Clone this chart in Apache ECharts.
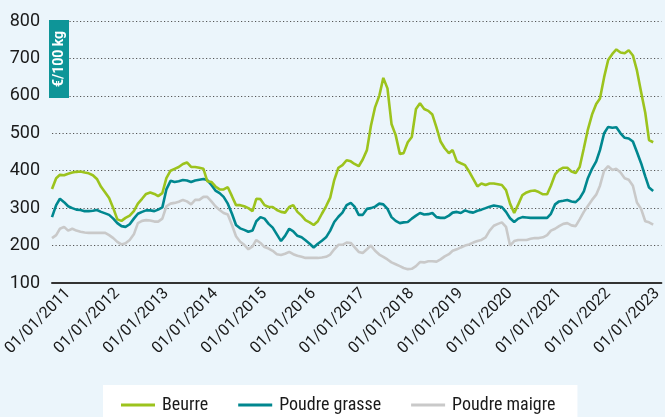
<!DOCTYPE html>
<html>
<head>
<meta charset="utf-8">
<script src="https://cdn.jsdelivr.net/npm/echarts@6/dist/echarts.min.js"></script>
<style>
html,body{margin:0;padding:0;background:#ebf5fb;}
#c{width:665px;height:417px;}
</style>
</head>
<body>
<div id="c"></div>
<script>
// Monthly observations (1st of month), from Jan 2011 to Apr 2023
var startYear = 2011, startMonth = 1, monthCount = 148;

var beurre = [351,380,389,388,392,395,397,398,395,393,388,378,357,342,327,300,270,266,274,280,292,312,325,338,342,338,332,340,380,400,405,410,418,422,410,410,408,405,372,370,358,350,350,356,332,308,308,305,300,292,325,324,308,303,303,295,290,288,303,308,290,280,268,262,255,265,285,305,328,375,408,415,428,425,418,412,430,455,520,570,600,648,620,525,495,445,447,476,490,565,580,565,560,550,515,478,460,447,455,425,420,415,398,378,358,366,362,366,366,364,362,348,312,287,310,335,342,346,347,343,337,337,360,390,402,408,408,398,394,410,460,510,550,578,593,650,696,712,724,716,714,722,708,668,610,555,482,476];

var poudreGrasse = [276,308,325,316,305,300,296,295,292,292,293,295,290,286,282,272,260,252,250,257,272,285,290,294,294,292,296,302,350,373,370,372,375,374,370,374,376,378,375,362,347,340,330,312,285,255,246,242,237,240,265,276,272,258,248,230,212,226,245,238,226,222,214,205,195,205,213,222,240,263,277,288,308,314,304,282,282,298,300,304,312,310,298,276,266,260,262,263,272,280,287,283,284,287,276,274,274,280,288,290,287,294,290,288,293,296,300,304,307,305,303,290,273,263,272,276,275,274,274,274,274,274,285,310,318,320,322,318,316,326,345,380,405,425,455,500,517,515,516,500,488,486,478,450,420,385,355,346];

var poudreMaigre = [220,228,245,250,240,245,240,237,235,234,234,234,234,234,228,220,210,203,206,215,230,260,266,268,267,264,264,272,305,312,314,317,322,318,310,322,322,330,330,318,305,295,287,283,255,225,210,202,190,198,215,207,196,192,186,177,175,178,183,177,173,170,167,167,167,167,168,170,176,190,202,202,208,207,196,183,180,190,200,186,176,170,163,155,150,145,140,137,138,145,156,155,158,158,157,163,171,177,186,190,195,200,203,208,212,215,222,240,253,258,262,250,200,212,215,215,215,218,220,220,222,228,240,245,252,258,260,254,252,270,290,306,322,336,360,400,412,402,405,395,380,376,360,315,298,265,262,256];

var tickYears = [2011,2012,2013,2014,2015,2016,2017,2018,2019,2020,2021,2022,2023];
var seriesNames = ['Beurre','Poudre grasse','Poudre maigre'];
var yTicks = [100,200,300,400,500,600,700,800];

var DAY = 86400000;
var labelShift = 120 * DAY; // labels sit to the right of their year start, as in the source chart
var dates = [];
for (var i=0;i<monthCount;i++){
  dates.push(Date.UTC(startYear, startMonth - 1 + i, 1));
}
function pairs(vals){ return vals.map(function(v,i){return [dates[i], v];}); }
var labelValues = tickYears.map(function(y){ return Date.UTC(y,0,1) + labelShift; });

var chart = echarts.init(document.getElementById('c'), null, {renderer:'canvas'});
var colors = ['#9cc31d','#00878f','#c9c9c9'];
chart.setOption({
  backgroundColor:'#ebf5fb',
  animation:false,
  grid:{left:52, right:-8, top:21, bottom:134, containLabel:false},
  xAxis:{
    type:'value',
    scale:true,
    min: Date.UTC(2011,0,1),
    max: Date.UTC(2023,5,1),
    axisLine:{show:true, onZero:false, lineStyle:{color:'#333', width:2}},
    axisTick:{show:false},
    splitLine:{show:false},
    axisLabel:{
      customValues: labelValues,
      rotate:45,
      margin:8,
      color:'#1a1a1a',
      fontFamily:'Roboto, sans-serif',
      fontSize:16,
      formatter:function(v){ var d=new Date(v - labelShift); return '01/01/' + d.getUTCFullYear(); },
      hideOverlap:false
    }
  },
  yAxis:{
    type:'value',
    min:yTicks[0], max:yTicks[yTicks.length-1], interval:100,
    axisLine:{show:false},
    axisTick:{show:false},
    axisLabel:{color:'#1a1a1a', fontFamily:'Roboto, sans-serif', fontSize:18, margin:12},
    splitLine:{show:true, lineStyle:{color:'#555', type:[1.2,2.3], width:1}}
  },
  legend:{
    left:103, top:385,
    backgroundColor:'#ffffff',
    padding:[11,22,14,18],
    itemGap:30,
    itemWidth:34, itemHeight:3,
    icon:'rect',
    textStyle:{color:'#1a1a1a', fontSize:18, fontFamily:'"Liberation Sans Narrow", "Roboto Condensed", Roboto, sans-serif', padding:[0,0,0,2]},
    data: seriesNames
  },
  graphic:[
    {type:'rect', left:49, top:20, shape:{width:20, height:78}, style:{fill:'#0e9598'}, z:10},
    {type:'text', x:59.5, y:59, rotation:Math.PI/2, z:11,
     style:{text:'€/100 kg', fill:'#ffffff', font:'bold 14px Roboto, sans-serif', align:'center', verticalAlign:'middle'}}
  ],
  series:[
    {name:seriesNames[2], type:'line', data:pairs(poudreMaigre), showSymbol:false, symbol:'none', itemStyle:{color:colors[2]}, lineStyle:{width:2.6, color:colors[2]}, z:2},
    {name:seriesNames[1], type:'line', data:pairs(poudreGrasse), showSymbol:false, symbol:'none', itemStyle:{color:colors[1]}, lineStyle:{width:2.6, color:colors[1]}, z:3},
    {name:seriesNames[0], type:'line', data:pairs(beurre), showSymbol:false, symbol:'none', itemStyle:{color:colors[0]}, lineStyle:{width:2.6, color:colors[0]}, z:4}
  ]
});
</script>
</body>
</html>
